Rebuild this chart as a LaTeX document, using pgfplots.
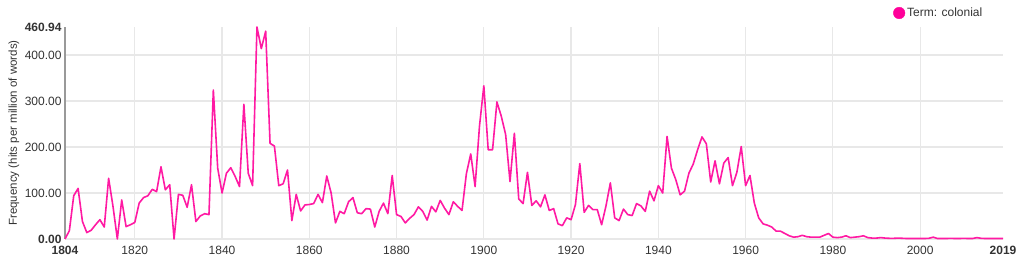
\documentclass[border=0pt]{standalone}
\usepackage{pgfplots}
\pgfplotsset{compat=1.18}
\usepackage{pgfplotstable}
\usepackage{fontspec}
\setmainfont{Liberation Sans}
\definecolor{linec}{HTML}{FF1AA3}
\definecolor{legc}{HTML}{FF0099}
\definecolor{gridc}{HTML}{E8E8E8}
\definecolor{txtc}{HTML}{333333}
\definecolor{axc}{HTML}{999999}

\pgfplotstableread{
year val
1804 0
1805 18
1806 94
1807 110
1808 38
1809 14
1810 19
1811 31
1812 42
1813 26
1814 132
1815 71
1816 0
1817 85
1818 27
1819 31
1820 36
1821 78
1822 90
1823 94
1824 108
1825 103
1826 157
1827 107
1828 118
1829 0
1830 97
1831 95
1832 69
1833 118
1834 38
1835 50
1836 55
1837 53
1838 324
1839 154
1840 100
1841 143
1842 155
1843 136
1844 114
1845 293
1846 143
1847 116
1848 460.94
1849 414
1850 452
1851 208
1852 202
1853 116
1854 120
1855 150
1856 40
1857 97
1858 61
1859 74
1860 75
1861 77
1862 97
1863 79
1864 137
1865 100
1866 35
1867 60
1868 55
1869 81
1870 90
1871 57
1872 55
1873 66
1874 65
1875 26
1876 60
1877 78
1878 55
1879 138
1880 53
1881 49
1882 35
1883 45
1884 53
1885 70
1886 60
1887 41
1888 71
1889 59
1890 84
1891 67
1892 53
1893 81
1894 71
1895 62
1896 142
1897 185
1898 114
1899 245
1900 333
1901 194
1902 194
1903 298
1904 267
1905 227
1906 125
1907 230
1908 87
1909 77
1910 145
1911 73
1912 83
1913 70
1914 96
1915 62
1916 66
1917 33
1918 29
1919 46
1920 42
1921 75
1922 164
1923 58
1924 73
1925 64
1926 64
1927 31
1928 72
1929 122
1930 46
1931 40
1932 65
1933 53
1934 51
1935 77
1936 72
1937 60
1938 104
1939 83
1940 116
1941 100
1942 223
1943 154
1944 129
1945 96
1946 104
1947 143
1948 163
1949 194
1950 222
1951 207
1952 124
1953 170
1954 120
1955 165
1956 177
1957 116
1958 145
1959 201
1960 116
1961 138
1962 78
1963 46
1964 33
1965 30
1966 26
1967 17
1968 17
1969 12
1970 7
1971 4
1972 5
1973 8
1974 5
1975 4
1976 4
1977 4
1978 8
1979 12
1980 4
1981 3
1982 4
1983 7
1984 3
1985 4
1986 5
1987 7
1988 3
1989 2
1990 2
1991 3
1992 2
1993 1.5
1994 1.5
1995 2
1996 1.5
1997 1
1998 1
1999 1
2000 1
2001 1
2002 1.5
2003 4
2004 1
2005 1
2006 1
2007 1.5
2008 1
2009 1
2010 1.5
2011 1
2012 1
2013 3
2014 1.5
2015 1
2016 1
2017 1
2018 1
2019 1
}\datatable

\begin{document}
\begin{tikzpicture}[x=1pt,y=1pt]
\useasboundingbox (0,0) rectangle (1024,267);
\begin{axis}[
  at={(65pt,28pt)}, anchor=south west,
  scale only axis, width=938pt, height=212pt,
  xmin=1804, xmax=2019, ymin=0, ymax=460.94,
  axis lines*=left,
  x axis line style={draw=gridc, line width=1.2pt, -},
  y axis line style={draw=axc, line width=1.5pt, -},
  xtick={1820,1840,1860,1880,1900,1920,1940,1960,1980,2000},
  xticklabels={1820,1840,1860,1880,1900,1920,1940,1960,1980,2000},
  extra x ticks={1804,2019},
  extra x tick labels={\textbf{1804},\textbf{2019}},
  extra x tick style={grid=none},
  ytick={100,200,300,400},
  yticklabels={100.00,200.00,300.00,400.00},
  extra y ticks={0,460.94},
  extra y tick labels={\textbf{0.00},\textbf{460.94}},
  extra y tick style={grid=none},
  major tick length=0pt,
  xmajorgrids, ymajorgrids,
  major grid style={draw=gridc, line width=1.2pt},
  tick label style={font=\fontsize{12}{14}\selectfont, text=txtc},
  /pgf/number format/assume math mode=true,
  xticklabel style={yshift=-3.5pt},
  yticklabel style={xshift=0pt},
  ylabel={Frequency (hits per million of words)},
  ylabel style={font=\fontsize{11.5}{13}\selectfont, text=txtc, at={(axis description cs:-0.0545,0.5)}, anchor=center, rotate=0},
  legend style={at={(axis description cs:0.8827,1.066)}, anchor=west, draw=none, fill=none, font=\fontsize{12}{14}\selectfont, text=txtc, inner sep=0pt},
  legend cell align=left,
  clip=false,
]
\addlegendimage{legend image code/.code={\fill[legc] (0pt,0pt) circle (5.8pt);}}
\addlegendentry{Term: colonial}
\addplot[color=linec, line width=1.6pt, line join=round, no marks] table[x=year,y=val] {\datatable};
\end{axis}
\end{tikzpicture}
\end{document}
